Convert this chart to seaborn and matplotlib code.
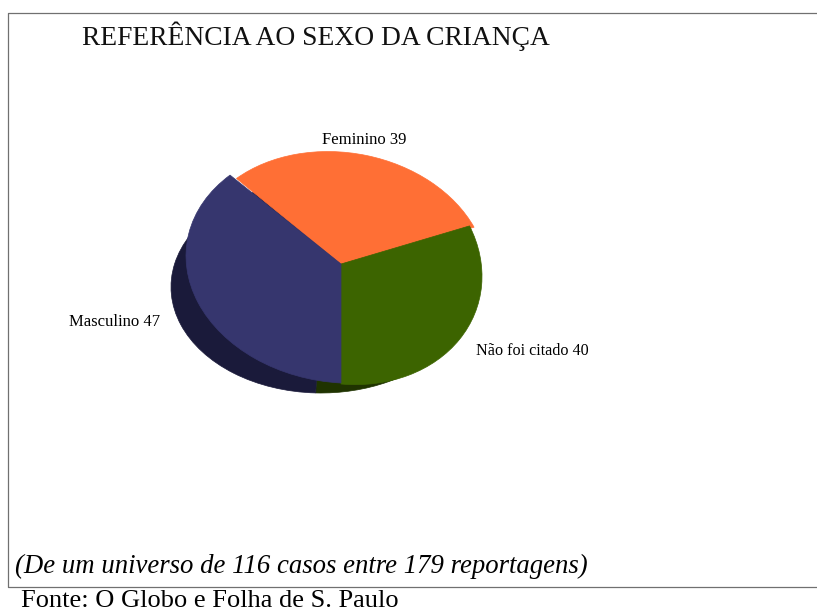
import matplotlib
matplotlib.use('Agg')
import matplotlib.pyplot as plt
from matplotlib.transforms import Affine2D
import seaborn as sns

# --- Data ---
categories = ['Não foi citado', 'Feminino', 'Masculino']
values = [40, 39, 47]
title = 'REFERÊNCIA AO SEXO DA CRIANÇA'
note = '(De um universo de 116 casos entre 179 reportagens)'
source = 'Fonte: O Globo e Folha de S. Paulo'

sns.set_theme(style='white')
plt.rcParams['font.family'] = ['Liberation Serif', 'DejaVu Serif']

top_colors = sns.color_palette(['#3C6400', '#FF6F35', '#36366E'])
side_colors = sns.color_palette(['#1F3300', '#1A1A3A', '#1A1A3A'])

fig = plt.figure(figsize=(8.17, 6.13), dpi=100, facecolor='white')
ax = fig.add_axes([0, 0, 1, 1])

# ellipse of each slice in pixels: (rx, ry, shear in degrees)
top_shape = [(141, 120, -5), (146, 112, -4), (155, 119, -3)]
side_shape = [(150, 106, 0), (150, 106, 0), (150, 106, 0)]
cx, cy = 341, 613 - 264


def draw_pie(colors, shape, px, py, start, z):
    wedges, _ = ax.pie(values, colors=colors, startangle=start, radius=1)
    for w, c, (rx, ry, shear) in zip(wedges, colors, shape):
        w.set_transform(Affine2D().scale(rx, ry).skew_deg(0, shear).translate(px, py) + ax.transData)
        w.set_edgecolor(c)
        w.set_linewidth(0.5)
        w.set_zorder(z)
        w.set_clip_on(False)
    return wedges


# extruded side first, top face on top of it
draw_pie(side_colors, side_shape, 321, 613 - 287, 268, 1)
top = draw_pie(top_colors, top_shape, cx, cy, 270, 2)
top[1].set_zorder(1.5)

ax.set_aspect('auto')
ax.set_xlim(0, 817)
ax.set_ylim(0, 613)
ax.axis('off')

# Frame (open on the right side)
ax.plot([817, 8, 8, 817], [613 - 13, 613 - 13, 613 - 587, 613 - 587], color='#707070', lw=0.9, zorder=3)

ax.text(82, 613 - 36, title, fontsize=19.8, color='#111111', va='center', ha='left')
ax.text(322, 613 - 140, f'{categories[1]} {values[1]}', fontsize=12, color='black', va='center', ha='left')
ax.text(69, 613 - 322, f'{categories[2]} {values[2]}', fontsize=12, color='black', va='center', ha='left')
ax.text(476, 613 - 351, f'{categories[0]} {values[0]}', fontsize=11.6, color='black', va='center', ha='left')
ax.text(15, 613 - 566, note, fontsize=19.3, style='italic', color='black', va='center', ha='left')
ax.text(21, 613 - 601, source, fontsize=19, color='black', va='center', ha='left')

fig.savefig('out.png', dpi=100)
